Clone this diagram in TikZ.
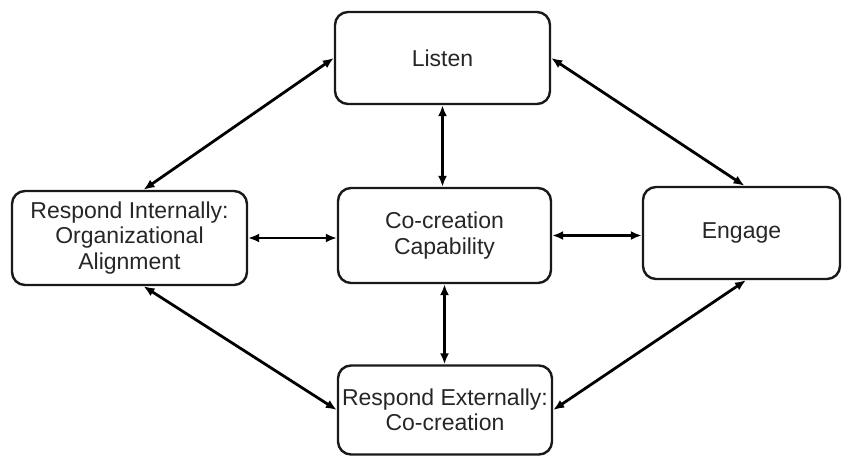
\documentclass[tikz,border=0pt]{standalone}
\usepackage{fontspec}
\setmainfont{Liberation Sans}
\usetikzlibrary{arrows.meta,calc}
\begin{document}
\begin{tikzpicture}[x=1pt,y=-1pt,
  box/.style={draw=black!90, line width=2.4pt, rounded corners=13pt, align=center,
    inner sep=0pt, font=\fontsize{23}{25.5}\selectfont, text=black!85},
  link/.style={draw=black, line width=2.8pt, {Latex[length=11pt,width=9pt]}-{Latex[length=11pt,width=9pt]}},
  thin link/.style={link, line width=2pt}]
  \useasboundingbox (0,0) rectangle (847,457);

  % the five stages
  \node[box, minimum width=215pt, minimum height=92pt] (listen) at (442.5,58) {Listen};
  \node[box, minimum width=213pt, minimum height=95pt] (cc) at (444.5,235.5) {Co-creation\\Capability};
  \node[box, minimum width=235pt, minimum height=94pt] (ri) at (129.5,238) {Respond Internally:\\Organizational\\Alignment};
  \node[box, minimum width=197pt, minimum height=92pt] (eng) at (741.5,233) {Engage};
  \node[box, minimum width=214pt, minimum height=89pt] (re) at (445,410) {Respond Externally:\\Co-creation};

  % two-way links between the stages
  \draw[link] (listen.west) -- ($(ri.north)+(14,0)$);
  \draw[link] (listen.east) -- ($(eng.north)+(3,0)$);
  \draw[link] (listen.south) -- (listen.south |- cc.north);
  \draw[thin link] (ri.east) -- (ri.east -| cc.west);
  \draw[link] (cc.east) -- (cc.east -| eng.west);
  \draw[link] (cc.south) -- (cc.south |- re.north);
  \draw[link] ($(ri.south)+(14,0)$) -- (re.west);
  \draw[link] (re.east) -- ($(eng.south)+(4.5,0)$);
\end{tikzpicture}
\end{document}
